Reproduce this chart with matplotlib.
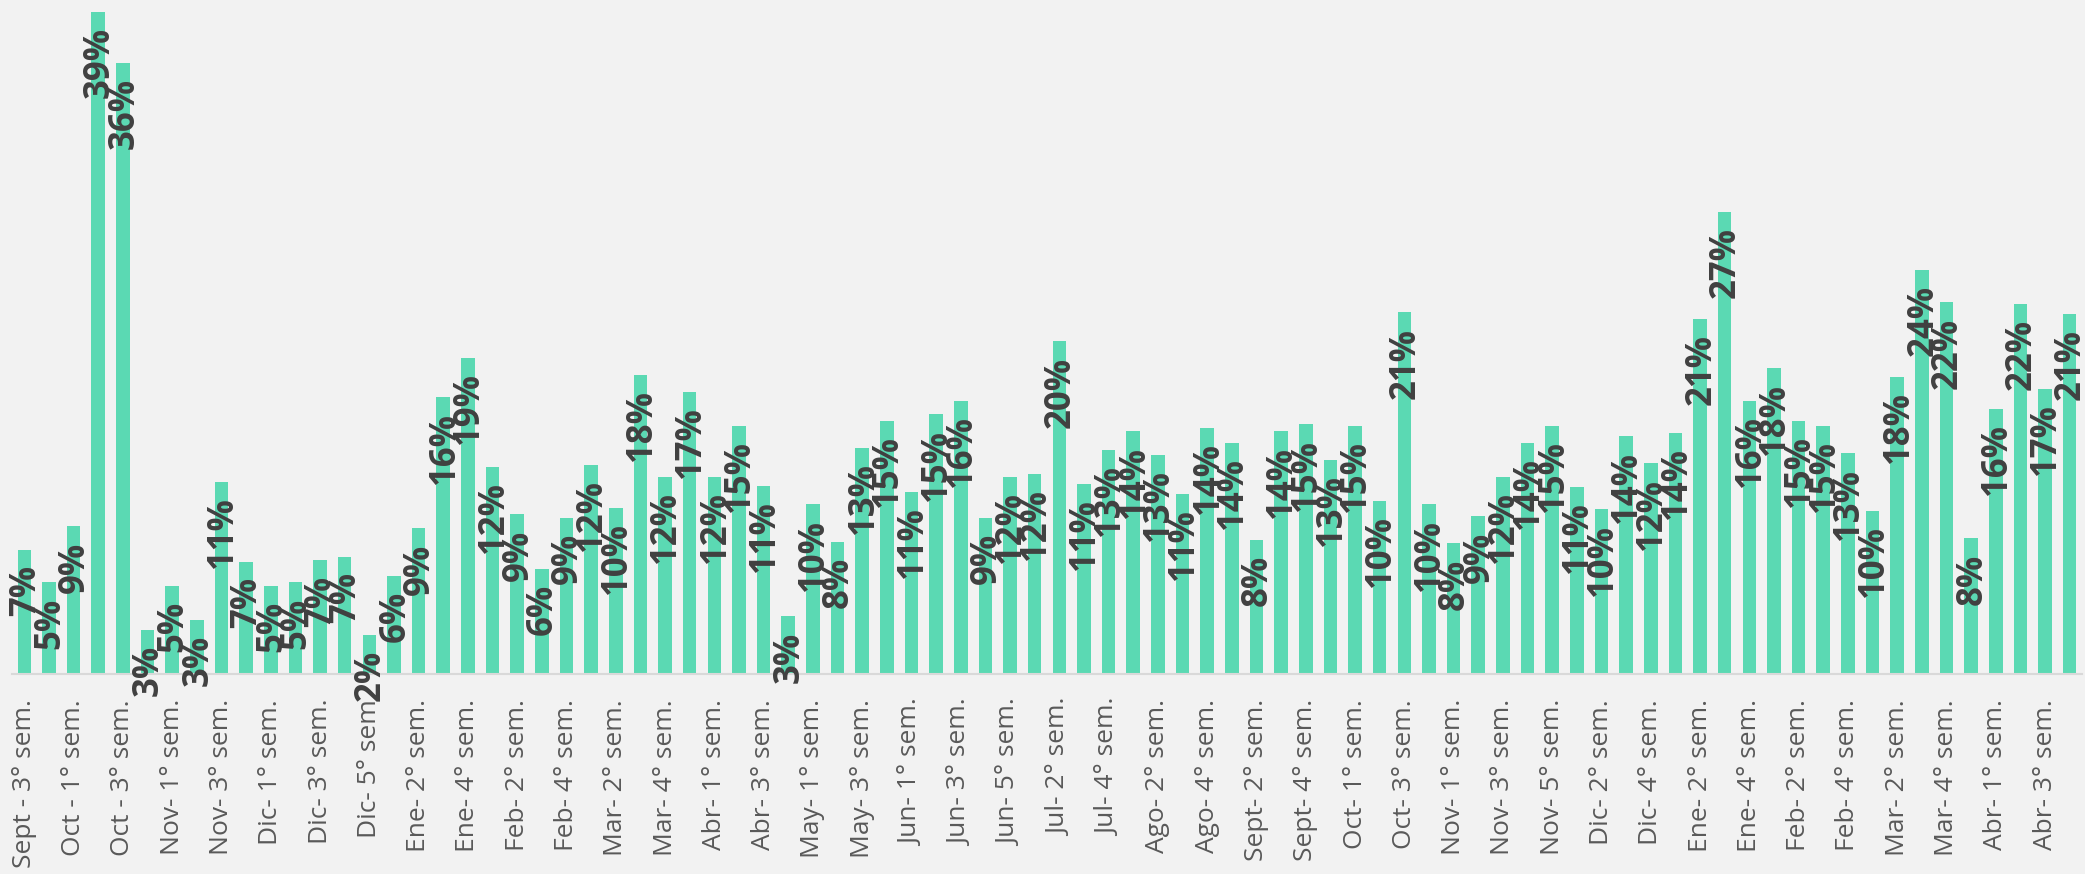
import numpy as np
import matplotlib
matplotlib.use("Agg")
import matplotlib.pyplot as plt

# weekly share (%) per bar
values = [7.3, 5.4, 8.7, 39.0, 36.0, 2.6, 5.2, 3.2, 11.3, 6.6,
          5.2, 5.4, 6.7, 6.9, 2.3, 5.8, 8.6, 16.3, 18.6, 12.2,
          9.4, 6.2, 9.2, 12.3, 9.8, 17.6, 11.6, 16.6, 11.6, 14.6,
          11.1, 3.4, 10.0, 7.8, 13.3, 14.9, 10.7, 15.3, 16.1, 9.2,
          11.6, 11.8, 19.6, 11.2, 13.2, 14.3, 12.9, 10.6, 14.5, 13.6,
          7.9, 14.3, 14.7, 12.6, 14.6, 10.2, 21.3, 10.0, 7.7, 9.3,
          11.6, 13.6, 14.6, 11.0, 9.7, 14.0, 12.4, 14.2, 20.9, 27.2,
          16.1, 18.0, 14.9, 14.6, 13.0, 9.6, 17.5, 23.8, 21.9, 8.0,
          15.6, 21.8, 16.8, 21.2]

# only every other category label is shown on the axis
tick_labels = ["Sept - 3° sem.", "Oct - 1° sem.", "Oct - 3° sem.", "Nov- 1° sem.",
               "Nov- 3° sem.", "Dic- 1° sem.", "Dic- 3° sem.", "Dic- 5° sem",
               "Ene- 2° sem.", "Ene- 4° sem.", "Feb- 2° sem.", "Feb- 4° sem.",
               "Mar- 2° sem.", "Mar- 4° sem.", "Abr- 1° sem.", "Abr- 3° sem.",
               "May- 1° sem.", "May- 3° sem.", "Jun- 1° sem.", "Jun- 3° sem.",
               "Jun- 5° sem.", "Jul- 2° sem.", "Jul- 4° sem.", "Ago- 2° sem.",
               "Ago- 4° sem.", "Sept- 2° sem.", "Sept- 4° sem.", "Oct- 1° sem.",
               "Oct- 3° sem.", "Nov- 1° sem.", "Nov- 3° sem.", "Nov- 5° sem.",
               "Dic- 2° sem.", "Dic- 4° sem.", "Ene- 2° sem.", "Ene- 4° sem.",
               "Feb- 2° sem.", "Feb- 4° sem.", "Mar- 2° sem.", "Mar- 4° sem.",
               "Abr- 1° sem.", "Abr- 3° sem."]

vals = np.array(values) / 100
x = np.arange(len(vals))

bg = "#F2F2F2"
fig = plt.figure(figsize=(20.85, 8.74), dpi=100, facecolor=bg)
ax = fig.add_axes([12 / 2085, 200 / 874, 2070 / 2085, 674 / 874])
ax.set_facecolor(bg)

ax.bar(x, vals, width=0.55, color="#5BD9B3", zorder=2)

for xi, v in zip(x, vals):
    ax.annotate(f"{v:.0%}", (xi, v), xytext=(1, -11), textcoords="offset points",
                rotation=90, ha="center", va="top", fontsize=25,
                fontweight="bold", family=["Open Sans", "DejaVu Sans"],
                color="#404040", zorder=4, annotation_clip=False)

ax.set_xlim(-0.5, len(vals) - 0.5)
ax.set_ylim(0, 0.397)
ax.set_xticks(x[::2])
ax.set_xticklabels(tick_labels, rotation=90, fontsize=19,
                   family=["Open Sans", "DejaVu Sans"], color="#595959")
ax.tick_params(axis="x", length=0, pad=18)
ax.set_yticks([])
for s in ["top", "right", "left"]:
    ax.spines[s].set_visible(False)
ax.spines["bottom"].set_color("#D9D9D9")
ax.spines["bottom"].set_linewidth(1.5)

fig.savefig("out.png", dpi=100, facecolor=bg)
